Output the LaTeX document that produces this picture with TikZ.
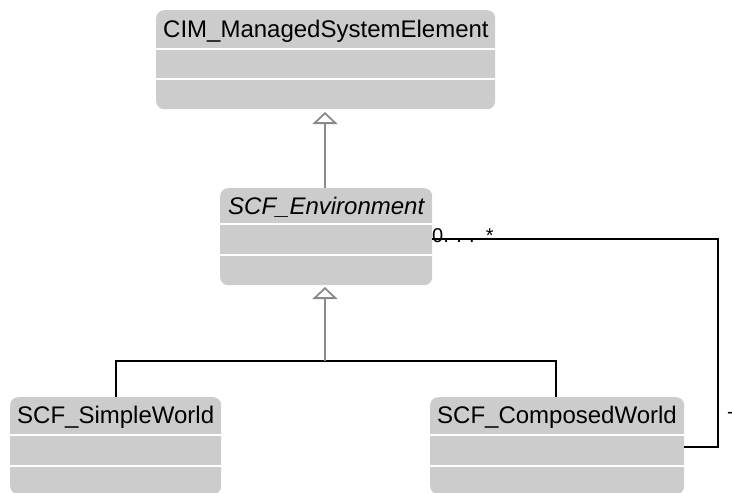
\documentclass[tikz,border=0pt]{standalone}
\usepackage{fontspec}
\setmainfont{Liberation Sans}
\usetikzlibrary{arrows.meta}
\definecolor{boxgray}{HTML}{CCCCCC}
\definecolor{genline}{HTML}{8A8A8A}
\tikzset{
  classbox/.style={draw=none, fill=boxgray, rounded corners=8pt, inner sep=0pt, anchor=north west},
  sepline/.style={draw=white, line width=1.2pt},
  classname/.style={anchor=base west, inner sep=0pt, font=\fontsize{24}{28}\selectfont},
  genedge/.style={draw=genline, line width=2pt},
  gentip/.style={-{Triangle[open, width=25pt, length=12pt, line width=1.8pt]}, draw=genline, line width=2pt},
  assoc/.style={draw=black, line width=2pt},
  multlabel/.style={inner sep=0pt, font=\fontsize{20}{24}\selectfont},
}
\begin{document}
\begin{tikzpicture}[x=1pt, y=-1pt]
  \useasboundingbox (0,0) rectangle (732,493);

  % class boxes
  \node[classbox, minimum width=339pt, minimum height=99pt] (cim) at (156,10) {};
  \node[classbox, minimum width=212pt, minimum height=97pt] (env) at (220,188) {};
  \node[classbox, minimum width=211pt, minimum height=97pt] (simple) at (10,397) {};
  \node[classbox, minimum width=254pt, minimum height=97pt] (composed) at (430,397) {};

  % compartment separators
  \draw[sepline] ([yshift=-39pt]cim.north west) -- ([yshift=-39pt]cim.north east);
  \draw[sepline] ([yshift=-69pt]cim.north west) -- ([yshift=-69pt]cim.north east);
  \draw[sepline] ([yshift=-36pt]env.north west) -- ([yshift=-36pt]env.north east);
  \draw[sepline] ([yshift=-67pt]env.north west) -- ([yshift=-67pt]env.north east);
  \draw[sepline] ([yshift=-38pt]simple.north west) -- ([yshift=-38pt]simple.north east);
  \draw[sepline] ([yshift=-69pt]simple.north west) -- ([yshift=-69pt]simple.north east);
  \draw[sepline] ([yshift=-38pt]composed.north west) -- ([yshift=-38pt]composed.north east);
  \draw[sepline] ([yshift=-69pt]composed.north west) -- ([yshift=-69pt]composed.north east);

  % class names
  \node[classname] (cimname) at (163,37) {CIM\_ManagedSystemElement};
  \node[classname, font=\fontsize{24}{28}\selectfont\itshape] (envname) at (228,214) {SCF\_Environment};
  \node[classname] (simplename) at (17,423) {SCF\_SimpleWorld};
  \node[classname] (composedname) at (437,423) {SCF\_ComposedWorld};

  % generalization: SCF_Environment -> CIM_ManagedSystemElement
  \coordinate (envtop) at (325,188);
  \coordinate (cimtip) at (325,112);
  \draw[gentip] (envtop) -- (cimtip);

  % generalization: subclasses -> SCF_Environment
  \coordinate (join) at (325,361);
  \coordinate (envtip) at (325,287);
  \coordinate (simplejoin) at (116,361);
  \coordinate (composedjoin) at (556,361);
  \draw[assoc] (simple.north -| simplejoin) -- (simplejoin) -- (composedjoin) -- (composed.north -| composedjoin);
  \draw[gentip] (join) -- (envtip);

  % association SCF_Environment -- SCF_ComposedWorld
  \coordinate (envport) at (432,239);
  \coordinate (corner1) at (718,239);
  \coordinate (corner2) at (718,447);
  \coordinate (compport) at (684,447);
  \draw[assoc] (envport) -- (corner1) -- (corner2) -- (compport);

  % multiplicities
  \node[multlabel, anchor=base west] (multenv) at (432,242) {0. . .\ \ *};
  \node[multlabel, anchor=base west] (multcomp) at (727,418) {-};
\end{tikzpicture}
\end{document}
